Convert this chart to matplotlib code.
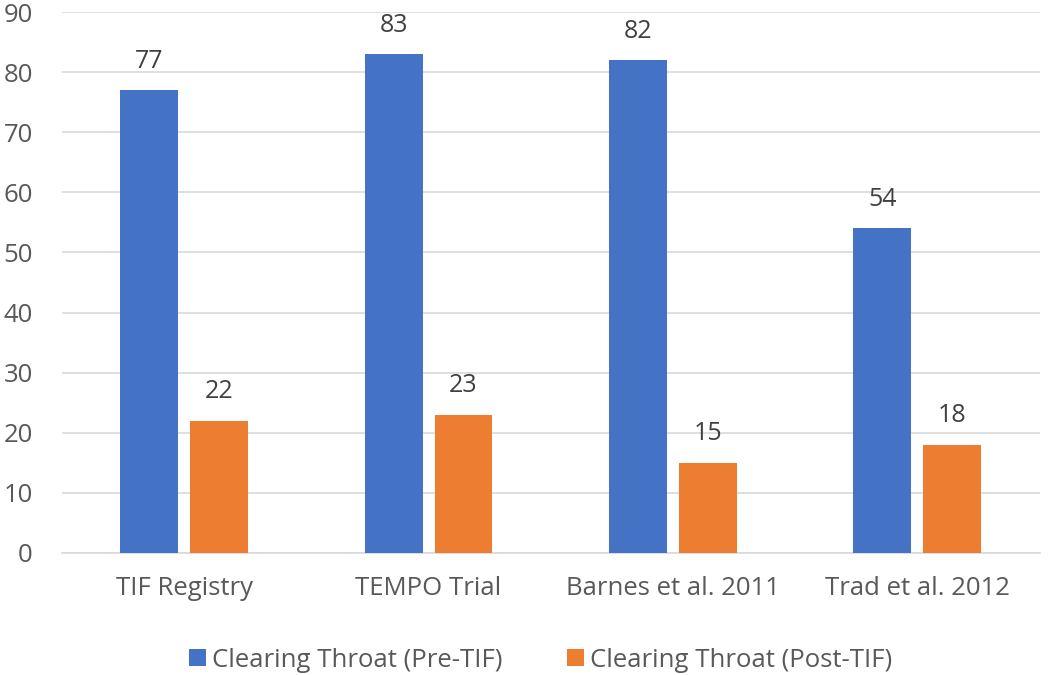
import numpy as np
import matplotlib
matplotlib.use("Agg")
import matplotlib.pyplot as plt

# chart data
categories = ["TIF Registry", "TEMPO Trial", "Barnes et al. 2011", "Trad et al. 2012"]
pre_tif = [77, 83, 82, 54]
post_tif = [22, 23, 15, 18]
series_names = ["Clearing Throat (Pre-TIF)", "Clearing Throat (Post-TIF)"]

plt.rcParams['font.family'] = ['Open Sans', 'DejaVu Sans']
fs = 18.5

fig = plt.figure(figsize=(10.5, 6.75), dpi=100)
ax = fig.add_axes([0.059, 0.181, 0.931, 0.801])

x = np.arange(len(categories))
w = 0.237
off = 0.143
b1 = ax.bar(x - off, pre_tif, w, color="#4472C4", label=series_names[0], zorder=3)
b2 = ax.bar(x + off, post_tif, w, color="#ED7D31", label=series_names[1], zorder=3)

for bars in (b1, b2):
    for r in bars:
        ax.annotate(f"{int(r.get_height())}", (r.get_x() + r.get_width() / 2, r.get_height()),
                    xytext=(0, 12), textcoords="offset points", ha="center", va="bottom",
                    fontsize=fs - 0.5, color="#404040")

ax.set_xlim(-0.5, len(categories) - 0.5)
ax.set_ylim(0, 90)
ax.set_yticks(range(0, 91, 10))
ax.set_xticks(x)
ax.set_xticklabels(categories)
ax.yaxis.grid(True, color="#D9D9D9", linewidth=1.2, zorder=0)
for s in ("top", "right", "left"):
    ax.spines[s].set_visible(False)
ax.spines["bottom"].set_color("#D9D9D9")
ax.spines["bottom"].set_linewidth(1.2)
ax.tick_params(axis="both", length=0, labelsize=fs, labelcolor="#595959")
ax.tick_params(axis="x", pad=17)
ax.tick_params(axis="y", pad=21)

fig.legend(handles=[b1, b2], loc="center", bbox_to_anchor=(0.515, 0.022), ncol=2,
           frameon=False, fontsize=fs, labelcolor="#595959", handlelength=0.65,
           handleheight=0.65, handletextpad=0.25, columnspacing=2.5)

fig.savefig("out.png", dpi=100)
